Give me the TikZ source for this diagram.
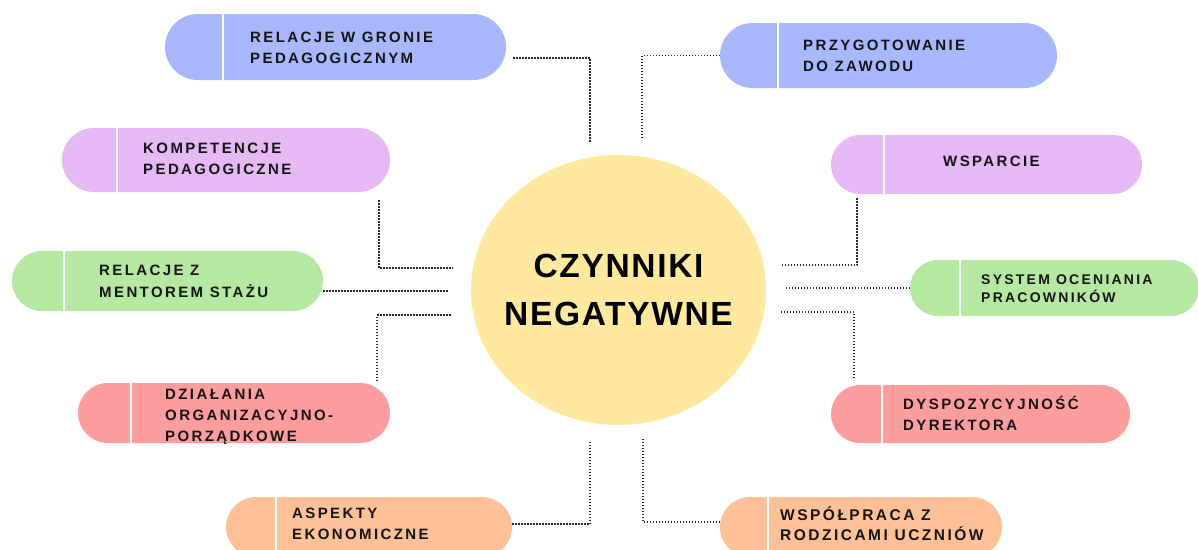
\documentclass[tikz,border=0pt]{standalone}
\usepackage{fontspec}
\setmainfont{Liberation Sans}
\newfontfamily\boxfont[LetterSpace=16]{Liberation Sans Bold}
\newfontfamily\titlefont[LetterSpace=5]{Liberation Sans Bold}
\usetikzlibrary{shapes.misc,shapes.geometric}
\definecolor{cblue}{HTML}{A9B8FD}
\definecolor{clilac}{HTML}{E5B9F3}
\definecolor{cgreen}{HTML}{B5E8A0}
\definecolor{cred}{HTML}{FD9D9E}
\definecolor{corange}{HTML}{FEC097}
\definecolor{cyellow}{HTML}{FEE99E}
\definecolor{ctext}{HTML}{151515}
\definecolor{cdot}{HTML}{2A2A2A}
\newcommand{\pillbox}[7]{%
  \node[pill, fill=#2, minimum width={#5-#3}, minimum height={#6-#4}] (#1) at ({(#3+#5)/2},{(#4+#6)/2}) {};
  \draw[divider] (#1.north -| #7,0) -- (#1.south -| #7,0);
}
\newcommand{\txtlines}[1]{\begin{tabular}[t]{@{}l@{}}#1\end{tabular}}
\begin{document}
\begin{tikzpicture}[x=1pt,y=-1pt,
  pill/.style={rounded rectangle, draw=none, inner sep=0pt, outer sep=0pt},
  divider/.style={draw=white, line width=2.2pt},
  boxtext/.style={font=\boxfont\fontsize{15}{21}\selectfont, text=ctext, inner sep=0pt, anchor=base west},
  conn/.style={draw=cdot, line width=1.9pt, dash pattern=on 1.5pt off 1.5pt},
  hub/.style={ellipse, fill=cyellow, draw=none, inner sep=0pt},
  hubtext/.style={align=center, text=black, inner sep=0pt,
    font=\titlefont\fontsize{33.5}{48}\selectfont}]
\useasboundingbox (0,0) rectangle (1198,549);
\fill[white] (0,0) rectangle (1198,549);

% hub
\node[hub, minimum width=295, minimum height=270] (hub) at (618.5,290) {};
\node[hubtext] (hubt) at (hub.center) {CZYNNIKI\\NEGATYWNE};

% boxes
\pillbox{b1}{cblue}{165}{14}{506}{80}{223}
\node[boxtext] (t1) at (250,42.5) {\txtlines{RELACJE W GRONIE\\PEDAGOGICZNYM}};

\pillbox{b2}{cblue}{720}{23}{1057}{88}{778}
\node[boxtext] (t2) at (803,50) {\txtlines{PRZYGOTOWANIE\\DO ZAWODU}};

\pillbox{b3}{clilac}{62}{128}{390}{192}{117}
\node[boxtext] (t3) at (143,153) {\txtlines{KOMPETENCJE\\PEDAGOGICZNE}};

\pillbox{b4}{clilac}{831}{135}{1142}{194}{884}
\node[boxtext] (t4) at (943,166) {WSPARCIE};

\pillbox{b5}{cgreen}{12}{251}{323}{311}{64}
\node[boxtext] (t5) at (99,275) {\fontsize{15}{22}\selectfont\txtlines{RELACJE Z\\MENTOREM STAŻU}};

\pillbox{b6}{cgreen}{910}{260}{1199}{316}{960}
\node[boxtext] (t6) at (981,284) {\fontsize{14}{18}\selectfont\txtlines{SYSTEM OCENIANIA\\PRACOWNIKÓW}};

\pillbox{b7}{cred}{78}{383}{390}{443}{131}
\node[boxtext] (t7) at (165,399) {\txtlines{DZIAŁANIA\\ORGANIZACYJNO-\\PORZĄDKOWE}};

\pillbox{b8}{cred}{831}{385}{1130}{443}{882}
\node[boxtext] (t8) at (903,409) {\txtlines{DYSPOZYCYJNOŚĆ\\DYREKTORA}};

\pillbox{b9}{corange}{226}{497}{512}{557}{276}
\node[boxtext] (t9) at (292,518) {\txtlines{ASPEKTY\\EKONOMICZNE}};

\pillbox{b10}{corange}{720}{497}{1002}{557}{768}
\node[boxtext] (t10) at (780,520) {\fontsize{15.5}{20}\selectfont\txtlines{WSPÓŁPRACA Z\\RODZICAMI UCZNIÓW}};

% connector ends near the hub
\coordinate (e1) at (590,143);
\coordinate (e2) at (642,138);
\coordinate (e3) at (453,268);
\coordinate (e4) at (782,265);
\coordinate (e5) at (448,291);
\coordinate (e6) at (785,288);
\coordinate (e7) at (452,315);
\coordinate (e8) at (780,312);
\coordinate (e9) at (590,440);
\coordinate (e10) at (643,437);

% connectors
\draw[conn] ([xshift=7pt,yshift=-11pt]b1.east) -| (e1);
\draw[conn] (b2.west) -| (e2);
\draw[conn] ([yshift=-8pt]b3.south -| 379,0) |- (e3);
\draw[conn] ([yshift=-4pt]b4.south -| 857,0) |- (e4);
\draw[conn] ([yshift=-10pt]b5.east) -- (e5);
\draw[conn] (b6.west) -- (e6);
\draw[conn] ([yshift=2pt]b7.north -| 377,0) |- (e7);
\draw[conn] ([yshift=7pt]b8.north -| 854,0) |- (e8);
\draw[conn] ([yshift=3pt]b9.east) -| (e9);
\draw[conn] ([yshift=5pt]b10.west) -| (e10);
\end{tikzpicture}
\end{document}
